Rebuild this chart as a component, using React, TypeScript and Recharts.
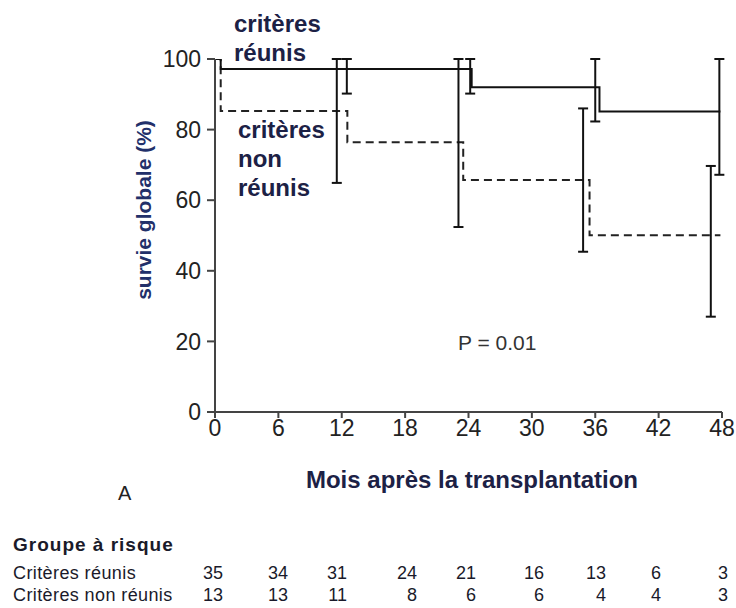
import React from 'react';
import { ComposedChart, Line, Scatter, ErrorBar, XAxis, YAxis } from 'recharts';

// Kaplan-Meier steps, month -> survival %
const metMonths = [0, 0.54, 24.3, 36.4, 47.85];
const metSurvival = [100, 97.2, 92.0, 85.1, 85.1];
const notMetMonths = [0, 0.54, 12.53, 23.5, 35.46, 47.85];
const notMetSurvival = [100, 85.3, 76.4, 65.7, 50.1, 50.1];

// confidence intervals (month, low, high)
const metCiMonths = [12.48, 24.16, 36.0, 47.75];
const metCiLow = [90.2, 90.2, 82.3, 67.2];
const metCiHigh = [100, 100, 100, 100];
const notMetCiMonths = [11.53, 23.05, 34.85, 46.94];
const notMetCiLow = [64.9, 52.4, 45.4, 27.0];
const notMetCiHigh = [100, 100, 86.0, 69.7];

const xTicks = [0, 6, 12, 18, 24, 30, 36, 42, 48];
const yTicks = [0, 20, 40, 60, 80, 100];

const atRiskMet = [35, 34, 31, 24, 21, 16, 13, 6, 3];
const atRiskNotMet = [13, 13, 11, 8, 6, 6, 4, 4, 3];

// right edge of every at-risk column (layout only)
const tableColRight = [223, 288, 347, 417, 476, 544, 606, 661, 728];

const metData = metMonths.map((m, i) => ({ x: m, s: metSurvival[i] }));
const notMetData = notMetMonths.map((m, i) => ({ x: m, s: notMetSurvival[i] }));
const ciData = (months: number[], low: number[], high: number[]) =>
  months.map((m, i) => ({ x: m, y: low[i], err: [0, high[i] - low[i]] }));

const font = '"Liberation Sans", Arial, sans-serif';
const navy = '#1c2145';

export default function App() {
  return (
    <div style={{ position: 'absolute', left: 0, top: 0, width: 736, height: 608, background: '#fff', fontFamily: font }}>
      <div style={{ position: 'absolute', left: 0, top: 0 }}>
        <ComposedChart width={736} height={460} margin={{ top: 59, right: 14, left: 155, bottom: 8 }}>
          <XAxis
            type="number"
            dataKey="x"
            domain={[0, 48]}
            ticks={xTicks}
            interval={0}
            height={40}
            stroke="#444"
            strokeWidth={2}
            tickSize={6}
            tickMargin={2}
            tick={{ fill: '#222', fontSize: 23, fontFamily: font }}
            allowDataOverflow
          />
          <YAxis
            type="number"
            domain={[0, 100]}
            ticks={yTicks}
            interval={0}
            width={60}
            stroke="#444"
            strokeWidth={2}
            tickSize={8}
            tickMargin={6}
            tick={{ fill: '#222', fontSize: 23, fontFamily: font }}
            allowDataOverflow
          />
          <Line
            data={notMetData}
            dataKey="s"
            type="stepAfter"
            stroke="#222"
            strokeWidth={2}
            strokeDasharray="8 5"
            dot={false}
            isAnimationActive={false}
          />
          <Line
            data={metData}
            dataKey="s"
            type="stepAfter"
            stroke="#111"
            strokeWidth={2}
            dot={false}
            isAnimationActive={false}
          />
          <Scatter
            data={ciData(notMetCiMonths, notMetCiLow, notMetCiHigh)}
            dataKey="y"
            shape={() => <g />}
            isAnimationActive={false}
          >
            <ErrorBar dataKey="err" direction="y" width={5} stroke="#111" strokeWidth={2} />
          </Scatter>
          <Scatter
            data={ciData(metCiMonths, metCiLow, metCiHigh)}
            dataKey="y"
            shape={() => <g />}
            isAnimationActive={false}
          >
            <ErrorBar dataKey="err" direction="y" width={5} stroke="#111" strokeWidth={2} />
          </Scatter>
        </ComposedChart>
      </div>
      <svg width={736} height={608} style={{ position: 'absolute', left: 0, top: 0, pointerEvents: 'none' }} fontFamily={font}>
        <text transform="translate(151,210) rotate(-90)" textAnchor="middle" fontSize={21} fontWeight="bold" fill="#22306a">
          survie globale (%)
        </text>
        <g fontSize={24} fontWeight="bold" fill={navy}>
          <text x={234} y={32}>critères</text>
          <text x={234} y={61}>réunis</text>
          <text x={238} y={138}>critères</text>
          <text x={238} y={167}>non</text>
          <text x={238} y={196}>réunis</text>
        </g>
        <text x={458} y={350} fontSize={21} fill="#333">P = 0.01</text>
        <text x={472} y={488} textAnchor="middle" fontSize={24} fontWeight="bold" fill={navy}>
          Mois après la transplantation
        </text>
        <text x={118} y={500} fontSize={20} fill="#222">A</text>
        <text x={13} y={551} fontSize={19} fontWeight="bold" letterSpacing={1} fill="#1a1a2a">Groupe à risque</text>
        <g fontSize={18} fill="#1a1a2a">
          <text x={13} y={579} letterSpacing={0.4}>Critères réunis</text>
          <text x={13} y={601} letterSpacing={0.4}>Critères non réunis</text>
          {atRiskMet.map((n, i) => (
            <text key={'m' + i} x={tableColRight[i]} y={579} textAnchor="end">{n}</text>
          ))}
          {atRiskNotMet.map((n, i) => (
            <text key={'n' + i} x={tableColRight[i]} y={601} textAnchor="end">{n}</text>
          ))}
        </g>
      </svg>
    </div>
  );
}
